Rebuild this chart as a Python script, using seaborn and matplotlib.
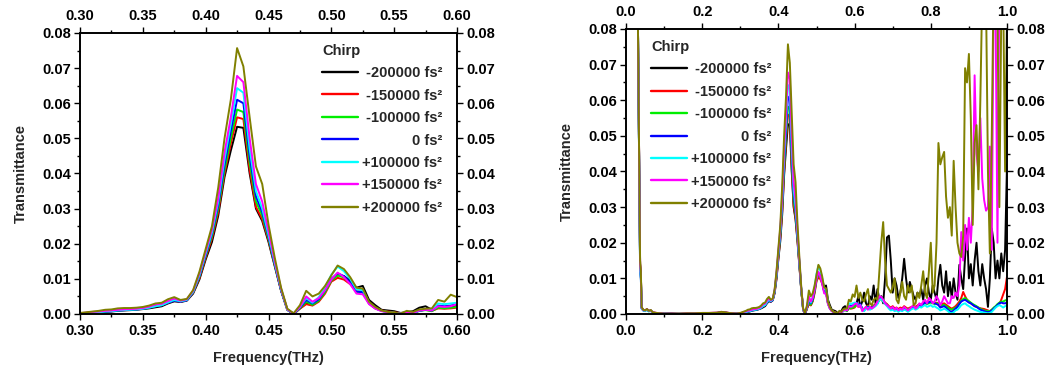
import numpy as np
import pandas as pd
import matplotlib
matplotlib.use("Agg")
import matplotlib.pyplot as plt
from matplotlib.lines import Line2D
from matplotlib.ticker import MultipleLocator, FormatStrFormatter
import seaborn as sns

# ---------------------------------------------------------------------------
# Data: transmittance spectra for seven chirp settings
# ---------------------------------------------------------------------------
# sparse sampling of the low-frequency edge, then a 5 GHz grid from 0.30 to 1.00 THz
freq_low = [0.030, 0.031, 0.037, 0.039, 0.041,
            0.045, 0.050, 0.055, 0.060, 0.065,
            0.070, 0.080, 0.090, 0.100, 0.120,
            0.140, 0.160, 0.180, 0.200, 0.220,
            0.240, 0.250, 0.260, 0.270, 0.280,
            0.290, 0.295]
freq_main = [round(0.300 + 0.005 * i, 3) for i in range(141)]
freq = freq_low + freq_main

chirp_labels = ["-200000 fs²", "-150000 fs²", "-100000 fs²", "0 fs²",
                "+100000 fs²", "+150000 fs²", "+200000 fs²"]
line_colors = ["#000000", "#ff0000", "#00ee00", "#0000ff",
               "#00ffff", "#ff00ff", "#808000"]

trans_m200k = [
    0.200, 0.085, 0.014, 0.011, 0.0018, 0.0011, 0.0009, 0.0013, 0.0008, 0.0010,
    0.0004, 0.0002, 0.0001, 0.0001, 0.0001, 0.0000, 0.0001, 0.0002, 0.0002, 0.0002,
    0.0003, 0.0005, 0.0004, 0.0002, 0.0001, 0.0001, 0.0001,
    # 0.300 .. 0.595
    0.0001, 0.0002, 0.0004, 0.0005, 0.0006, 0.0007, 0.0009, 0.0010, 0.0011, 0.0012,
    0.0014, 0.0016, 0.0019, 0.0022, 0.0030, 0.0036, 0.0034, 0.0038, 0.0058, 0.0098,
    0.0155, 0.0205, 0.0280, 0.0390, 0.0465, 0.0533, 0.0530, 0.0400, 0.0300, 0.0265,
    0.0205, 0.0136, 0.0066, 0.0012, 0.0000, 0.0016, 0.0030, 0.0025, 0.0038, 0.0065,
    0.0098, 0.0110, 0.0108, 0.0095, 0.0075, 0.0080, 0.0040, 0.0025, 0.0012, 0.0010,
    0.0008, 0.0003, 0.0005, 0.0008, 0.0018, 0.0022, 0.0012, 0.0020, 0.0018, 0.0020,
    # 0.600 .. 1.000
    0.0025, 0.0030, 0.0050, 0.0020, 0.0035, 0.0060, 0.0030, 0.0020, 0.0050, 0.0040,
    0.0080, 0.0030, 0.0070, 0.0040, 0.0050, 0.0030, 0.0100, 0.0215, 0.0220, 0.0150,
    0.0060, 0.0100, 0.0080, 0.0045, 0.0060, 0.0100, 0.0155, 0.0100, 0.0060, 0.0090,
    0.0070, 0.0050, 0.0040, 0.0060, 0.0050, 0.0070, 0.0040, 0.0080, 0.0100, 0.0060,
    0.0040, 0.0080, 0.0060, 0.0040, 0.0100, 0.0138, 0.0080, 0.0060, 0.0120, 0.0050,
    0.0090, 0.0045, 0.0100, 0.0060, 0.0040, 0.0138, 0.0100, 0.0070, 0.0160, 0.0240,
    0.0100, 0.0140, 0.0080, 0.0150, 0.0200, 0.0120, 0.0080, 0.0140, 0.0100, 0.0070,
    0.0020, 0.0100, 0.0240, 0.0200, 0.0100, 0.0150, 0.0100, 0.0170, 0.0120, 0.0180,
    0.0420]

trans_m150k = [
    0.200, 0.085, 0.014, 0.011, 0.0018, 0.0011, 0.0010, 0.0013, 0.0008, 0.0010,
    0.0004, 0.0003, 0.0002, 0.0001, 0.0001, 0.0001, 0.0001, 0.0002, 0.0002, 0.0003,
    0.0003, 0.0005, 0.0004, 0.0003, 0.0002, 0.0001, 0.0002,
    0.0002, 0.0003, 0.0005, 0.0006, 0.0008, 0.0009, 0.0011, 0.0012, 0.0013, 0.0014,
    0.0016, 0.0019, 0.0022, 0.0025, 0.0032, 0.0038, 0.0035, 0.0039, 0.0060, 0.0102,
    0.0160, 0.0215, 0.0290, 0.0400, 0.0485, 0.0560, 0.0555, 0.0410, 0.0305, 0.0270,
    0.0210, 0.0138, 0.0067, 0.0012, 0.0000, 0.0015, 0.0028, 0.0024, 0.0035, 0.0058,
    0.0092, 0.0103, 0.0098, 0.0085, 0.0065, 0.0064, 0.0032, 0.0018, 0.0010, 0.0007,
    0.0005, 0.0002, 0.0004, 0.0004, 0.0010, 0.0012, 0.0009, 0.0016, 0.0015, 0.0016,
    0.0018, 0.0026, 0.0020, 0.0024, 0.0016, 0.0012, 0.0020, 0.0024, 0.0018, 0.0020,
    0.0024, 0.0028, 0.0032, 0.0040, 0.0044, 0.0038, 0.0032, 0.0028, 0.0022, 0.0018,
    0.0022, 0.0016, 0.0018, 0.0014, 0.0018, 0.0016, 0.0022, 0.0018, 0.0015, 0.0018,
    0.0020, 0.0024, 0.0020, 0.0024, 0.0028, 0.0026, 0.0030, 0.0034, 0.0030, 0.0034,
    0.0036, 0.0032, 0.0030, 0.0032, 0.0030, 0.0026, 0.0028, 0.0030, 0.0026, 0.0022,
    0.0018, 0.0015, 0.0018, 0.0022, 0.0028, 0.0035, 0.0045, 0.0062, 0.0050, 0.0040,
    0.0035, 0.0030, 0.0026, 0.0022, 0.0020, 0.0018, 0.0016, 0.0015, 0.0014, 0.0012,
    0.0010, 0.0008, 0.0012, 0.0015, 0.0020, 0.0025, 0.0028, 0.0040, 0.0055, 0.0070,
    0.0105]

trans_m100k = [
    0.200, 0.085, 0.013, 0.011, 0.0017, 0.0011, 0.0009, 0.0013, 0.0008, 0.0010,
    0.0004, 0.0002, 0.0001, 0.0001, 0.0001, 0.0001, 0.0001, 0.0002, 0.0002, 0.0002,
    0.0003, 0.0005, 0.0004, 0.0002, 0.0001, 0.0001, 0.0002,
    0.0002, 0.0003, 0.0005, 0.0006, 0.0008, 0.0009, 0.0011, 0.0012, 0.0013, 0.0014,
    0.0016, 0.0019, 0.0023, 0.0026, 0.0033, 0.0039, 0.0036, 0.0040, 0.0062, 0.0106,
    0.0165, 0.0222, 0.0300, 0.0410, 0.0500, 0.0582, 0.0575, 0.0430, 0.0320, 0.0280,
    0.0215, 0.0140, 0.0068, 0.0012, 0.0000, 0.0016, 0.0035, 0.0026, 0.0038, 0.0062,
    0.0095, 0.0110, 0.0104, 0.0088, 0.0063, 0.0062, 0.0030, 0.0016, 0.0009, 0.0006,
    0.0004, 0.0001, 0.0004, 0.0003, 0.0009, 0.0011, 0.0008, 0.0018, 0.0016, 0.0018,
    0.0020, 0.0028, 0.0022, 0.0026, 0.0014, 0.0010, 0.0018, 0.0022, 0.0016, 0.0018,
    0.0022, 0.0026, 0.0030, 0.0040, 0.0042, 0.0036, 0.0030, 0.0026, 0.0020, 0.0015,
    0.0018, 0.0012, 0.0015, 0.0010, 0.0014, 0.0012, 0.0018, 0.0015, 0.0012, 0.0015,
    0.0018, 0.0020, 0.0018, 0.0020, 0.0025, 0.0024, 0.0028, 0.0030, 0.0028, 0.0030,
    0.0032, 0.0030, 0.0028, 0.0030, 0.0028, 0.0022, 0.0024, 0.0026, 0.0022, 0.0018,
    0.0014, 0.0012, 0.0015, 0.0018, 0.0022, 0.0030, 0.0038, 0.0042, 0.0045, 0.0040,
    0.0036, 0.0032, 0.0028, 0.0025, 0.0022, 0.0018, 0.0015, 0.0012, 0.0010, 0.0009,
    0.0008, 0.0008, 0.0012, 0.0018, 0.0022, 0.0028, 0.0032, 0.0035, 0.0035, 0.0038,
    0.0040]

trans_zero = [
    0.200, 0.085, 0.012, 0.010, 0.0016, 0.0010, 0.0009, 0.0012, 0.0008, 0.0009,
    0.0004, 0.0002, 0.0001, 0.0001, 0.0001, 0.0000, 0.0001, 0.0002, 0.0002, 0.0002,
    0.0003, 0.0004, 0.0004, 0.0002, 0.0001, 0.0001, 0.0001,
    0.0001, 0.0002, 0.0004, 0.0005, 0.0007, 0.0008, 0.0010, 0.0011, 0.0012, 0.0013,
    0.0015, 0.0018, 0.0022, 0.0025, 0.0032, 0.0038, 0.0035, 0.0039, 0.0062, 0.0108,
    0.0168, 0.0228, 0.0310, 0.0425, 0.0520, 0.0610, 0.0600, 0.0450, 0.0335, 0.0290,
    0.0220, 0.0142, 0.0068, 0.0012, 0.0000, 0.0018, 0.0040, 0.0030, 0.0042, 0.0068,
    0.0100, 0.0116, 0.0108, 0.0090, 0.0064, 0.0062, 0.0030, 0.0016, 0.0009, 0.0005,
    0.0003, 0.0001, 0.0003, 0.0002, 0.0009, 0.0012, 0.0010, 0.0024, 0.0022, 0.0024,
    0.0028, 0.0032, 0.0025, 0.0028, 0.0015, 0.0010, 0.0018, 0.0020, 0.0015, 0.0018,
    0.0020, 0.0025, 0.0030, 0.0042, 0.0045, 0.0038, 0.0030, 0.0025, 0.0018, 0.0012,
    0.0015, 0.0010, 0.0012, 0.0008, 0.0012, 0.0010, 0.0015, 0.0012, 0.0008, 0.0012,
    0.0016, 0.0018, 0.0015, 0.0018, 0.0024, 0.0022, 0.0028, 0.0032, 0.0030, 0.0033,
    0.0035, 0.0032, 0.0030, 0.0028, 0.0025, 0.0018, 0.0020, 0.0022, 0.0018, 0.0012,
    0.0008, 0.0006, 0.0010, 0.0015, 0.0020, 0.0028, 0.0035, 0.0038, 0.0040, 0.0036,
    0.0032, 0.0030, 0.0026, 0.0022, 0.0020, 0.0016, 0.0012, 0.0010, 0.0008, 0.0006,
    0.0005, 0.0006, 0.0010, 0.0015, 0.0020, 0.0025, 0.0030, 0.0032, 0.0030, 0.0030,
    0.0032]

trans_p100k = [
    0.200, 0.085, 0.012, 0.010, 0.0015, 0.0010, 0.0008, 0.0012, 0.0007, 0.0009,
    0.0004, 0.0002, 0.0001, 0.0001, 0.0000, 0.0001, 0.0001, 0.0002, 0.0002, 0.0002,
    0.0003, 0.0004, 0.0004, 0.0002, 0.0001, 0.0001, 0.0001,
    0.0001, 0.0002, 0.0004, 0.0005, 0.0007, 0.0008, 0.0010, 0.0011, 0.0012, 0.0013,
    0.0015, 0.0018, 0.0022, 0.0025, 0.0033, 0.0040, 0.0036, 0.0040, 0.0063, 0.0110,
    0.0172, 0.0232, 0.0320, 0.0440, 0.0540, 0.0643, 0.0630, 0.0470, 0.0350, 0.0300,
    0.0225, 0.0145, 0.0070, 0.0012, 0.0001, 0.0020, 0.0045, 0.0032, 0.0048, 0.0075,
    0.0112, 0.0135, 0.0122, 0.0100, 0.0070, 0.0068, 0.0032, 0.0017, 0.0009, 0.0005,
    0.0003, 0.0001, 0.0003, 0.0002, 0.0010, 0.0013, 0.0012, 0.0030, 0.0028, 0.0030,
    0.0032, 0.0030, 0.0022, 0.0025, 0.0012, 0.0008, 0.0015, 0.0018, 0.0012, 0.0015,
    0.0018, 0.0022, 0.0028, 0.0040, 0.0042, 0.0035, 0.0028, 0.0022, 0.0015, 0.0010,
    0.0012, 0.0008, 0.0010, 0.0006, 0.0010, 0.0008, 0.0012, 0.0010, 0.0006, 0.0010,
    0.0014, 0.0016, 0.0012, 0.0015, 0.0020, 0.0018, 0.0022, 0.0025, 0.0020, 0.0022,
    0.0025, 0.0020, 0.0022, 0.0018, 0.0015, 0.0010, 0.0012, 0.0015, 0.0012, 0.0008,
    0.0003, 0.0002, 0.0005, 0.0010, 0.0012, 0.0018, 0.0025, 0.0028, 0.0030, 0.0025,
    0.0022, 0.0018, 0.0015, 0.0012, 0.0010, 0.0008, 0.0006, 0.0005, 0.0004, 0.0003,
    0.0002, 0.0003, 0.0006, 0.0012, 0.0018, 0.0022, 0.0025, 0.0022, 0.0018, 0.0022,
    0.0025]

trans_p150k = [
    0.200, 0.085, 0.014, 0.011, 0.0018, 0.0011, 0.0010, 0.0014, 0.0009, 0.0010,
    0.0005, 0.0003, 0.0002, 0.0001, 0.0001, 0.0001, 0.0002, 0.0002, 0.0003, 0.0003,
    0.0004, 0.0006, 0.0005, 0.0003, 0.0002, 0.0001, 0.0002,
    0.0002, 0.0004, 0.0006, 0.0007, 0.0009, 0.0010, 0.0012, 0.0013, 0.0014, 0.0015,
    0.0017, 0.0021, 0.0027, 0.0029, 0.0037, 0.0044, 0.0038, 0.0042, 0.0066, 0.0115,
    0.0178, 0.0240, 0.0330, 0.0460, 0.0560, 0.0678, 0.0660, 0.0500, 0.0370, 0.0320,
    0.0235, 0.0150, 0.0072, 0.0013, 0.0001, 0.0020, 0.0050, 0.0035, 0.0045, 0.0068,
    0.0098, 0.0118, 0.0105, 0.0085, 0.0058, 0.0056, 0.0028, 0.0015, 0.0008, 0.0005,
    0.0003, 0.0001, 0.0004, 0.0003, 0.0010, 0.0012, 0.0010, 0.0022, 0.0020, 0.0022,
    0.0028, 0.0030, 0.0020, 0.0025, 0.0008, 0.0015, 0.0020, 0.0012, 0.0020, 0.0015,
    0.0020, 0.0025, 0.0035, 0.0050, 0.0048, 0.0040, 0.0030, 0.0025, 0.0020, 0.0015,
    0.0020, 0.0012, 0.0018, 0.0010, 0.0015, 0.0012, 0.0020, 0.0015, 0.0010, 0.0015,
    0.0020, 0.0025, 0.0015, 0.0020, 0.0030, 0.0025, 0.0035, 0.0040, 0.0030, 0.0045,
    0.0040, 0.0030, 0.0035, 0.0050, 0.0040, 0.0025, 0.0035, 0.0050, 0.0040, 0.0030,
    0.0030, 0.0050, 0.0045, 0.0060, 0.0050, 0.0080, 0.0230, 0.0150, 0.0250, 0.0180,
    0.0270, 0.0200, 0.0300, 0.0670, 0.0450, 0.0400, 0.0550, 0.0380, 0.0320, 0.0290,
    0.0300, 0.0470, 0.0180, 0.0900, 0.0850, 0.0200, 0.0950, 0.0900, 0.0850, 0.0900,
    0.0950]

trans_p200k = [
    0.200, 0.085, 0.015, 0.012, 0.0020, 0.0012, 0.0010, 0.0014, 0.0009, 0.0011,
    0.0005, 0.0003, 0.0002, 0.0001, 0.0001, 0.0001, 0.0002, 0.0002, 0.0003, 0.0003,
    0.0004, 0.0006, 0.0005, 0.0003, 0.0002, 0.0001, 0.0002,
    0.0003, 0.0005, 0.0007, 0.0009, 0.0012, 0.0013, 0.0016, 0.0017, 0.0017, 0.0018,
    0.0020, 0.0024, 0.0030, 0.0032, 0.0042, 0.0048, 0.0040, 0.0043, 0.0068, 0.0120,
    0.0185, 0.0250, 0.0360, 0.0500, 0.0610, 0.0757, 0.0705, 0.0560, 0.0420, 0.0370,
    0.0255, 0.0160, 0.0075, 0.0015, 0.0002, 0.0025, 0.0066, 0.0050, 0.0058, 0.0080,
    0.0110, 0.0138, 0.0128, 0.0105, 0.0075, 0.0072, 0.0035, 0.0020, 0.0010, 0.0006,
    0.0004, 0.0001, 0.0009, 0.0006, 0.0013, 0.0015, 0.0016, 0.0040, 0.0035, 0.0055,
    0.0048, 0.0080, 0.0045, 0.0060, 0.0040, 0.0035, 0.0055, 0.0070, 0.0030, 0.0025,
    0.0040, 0.0045, 0.0040, 0.0120, 0.0200, 0.0258, 0.0150, 0.0080, 0.0070, 0.0060,
    0.0075, 0.0100, 0.0040, 0.0030, 0.0060, 0.0090, 0.0050, 0.0040, 0.0080, 0.0060,
    0.0080, 0.0025, 0.0030, 0.0060, 0.0045, 0.0080, 0.0120, 0.0060, 0.0045, 0.0120,
    0.0200, 0.0060, 0.0080, 0.0200, 0.0480, 0.0420, 0.0440, 0.0455, 0.0330, 0.0270,
    0.0300, 0.0220, 0.0430, 0.0300, 0.0200, 0.0170, 0.0160, 0.0220, 0.0690, 0.0650,
    0.0730, 0.0550, 0.0250, 0.0480, 0.0530, 0.0350, 0.0600, 0.0900, 0.0820, 0.0880,
    0.0400, 0.0170, 0.0500, 0.0950, 0.0900, 0.0850, 0.0300, 0.0850, 0.0900, 0.0400,
    0.0850]

series = [trans_m200k, trans_m150k, trans_m100k, trans_zero,
          trans_p100k, trans_p150k, trans_p200k]
for s in series:
    assert len(s) == len(freq), (len(s), len(freq))

frames = [pd.DataFrame({"freq": freq, "T": vals, "chirp": lab})
          for lab, vals in zip(chirp_labels, series)]
df = pd.concat(frames, ignore_index=True)

# ---------------------------------------------------------------------------
# Style
# ---------------------------------------------------------------------------
sns.set_style("ticks")
plt.rcParams["font.family"] = ["Liberation Sans", "DejaVu Sans"]
plt.rcParams.update({
    "font.weight": "bold",
    "axes.labelweight": "bold",
    "axes.edgecolor": "black",
    "axes.linewidth": 1.4,
    "xtick.color": "black",
    "ytick.color": "black",
    "xtick.direction": "out",
    "ytick.direction": "out",
    "font.size": 10.5,
})

palette = dict(zip(chirp_labels, line_colors))

fig = plt.figure(figsize=(10.5, 3.73), dpi=100)
ax_zoom = fig.add_axes([0.07619, 0.15818, 0.35905, 0.75335])
ax_full = fig.add_axes([0.59619, 0.15818, 0.36286, 0.76408])


def draw_panel(ax, xlim, xmajor, xminor, xfmt, legend_anchor):
    sns.lineplot(data=df, x="freq", y="T", hue="chirp", hue_order=chirp_labels,
                 palette=palette, estimator=None, linewidth=1.4,
                 legend=False, ax=ax)
    ax.set_xlim(*xlim)
    ax.set_ylim(0, 0.08)
    ax.xaxis.set_major_locator(MultipleLocator(xmajor))
    ax.xaxis.set_minor_locator(MultipleLocator(xminor))
    ax.xaxis.set_major_formatter(FormatStrFormatter(xfmt))
    ax.yaxis.set_major_locator(MultipleLocator(0.01))
    ax.yaxis.set_minor_locator(MultipleLocator(0.005))
    ax.yaxis.set_major_formatter(FormatStrFormatter("%.2f"))
    ax.tick_params(which="both", top=True, right=True,
                   labeltop=True, labelright=True, width=1.0)
    ax.tick_params(which="major", length=4.3, labelsize=10.5)
    ax.tick_params(axis="x", which="major", pad=3.2)
    ax.tick_params(axis="y", which="major", pad=2.2)
    ax.tick_params(which="minor", length=2.2)
    for sp in ax.spines.values():
        sp.set_linewidth(1.4)
        sp.set_color("black")
    ax.set_xlabel("Frequency(THz)", fontsize=10.5, fontweight="bold", labelpad=9)
    ax.set_ylabel("Transmittance", fontsize=10.5, fontweight="bold", labelpad=10)

    handles = [Line2D([], [], color=c, lw=1.7) for c in line_colors]
    leg = ax.legend(handles, chirp_labels, title="Chirp", frameon=False,
                    loc="upper left", bbox_to_anchor=legend_anchor,
                    borderpad=0, borderaxespad=0, handlelength=2.45,
                    handletextpad=0.3, labelspacing=0.58,
                    prop={"weight": "bold", "size": 10.5},
                    title_fontproperties={"weight": "bold", "size": 10.5},
                    alignment="left")
    return leg


legends = [
    draw_panel(ax_zoom, (0.30, 0.60), 0.05, 0.025, "%.2f", (0.642, 0.962)),
    draw_panel(ax_full, (0.0, 1.0), 0.2, 0.1, "%.1f", (0.066, 0.962)),
]

# right-align the legend entry texts
fig.canvas.draw()
renderer = fig.canvas.get_renderer()
for leg in legends:
    texts = leg.get_texts()
    widths = [t.get_window_extent(renderer).width for t in texts]
    wmax = max(widths)
    for t, w in zip(texts, widths):
        t.set_position((wmax - w, 0))

fig.savefig("out.png", dpi=100)
